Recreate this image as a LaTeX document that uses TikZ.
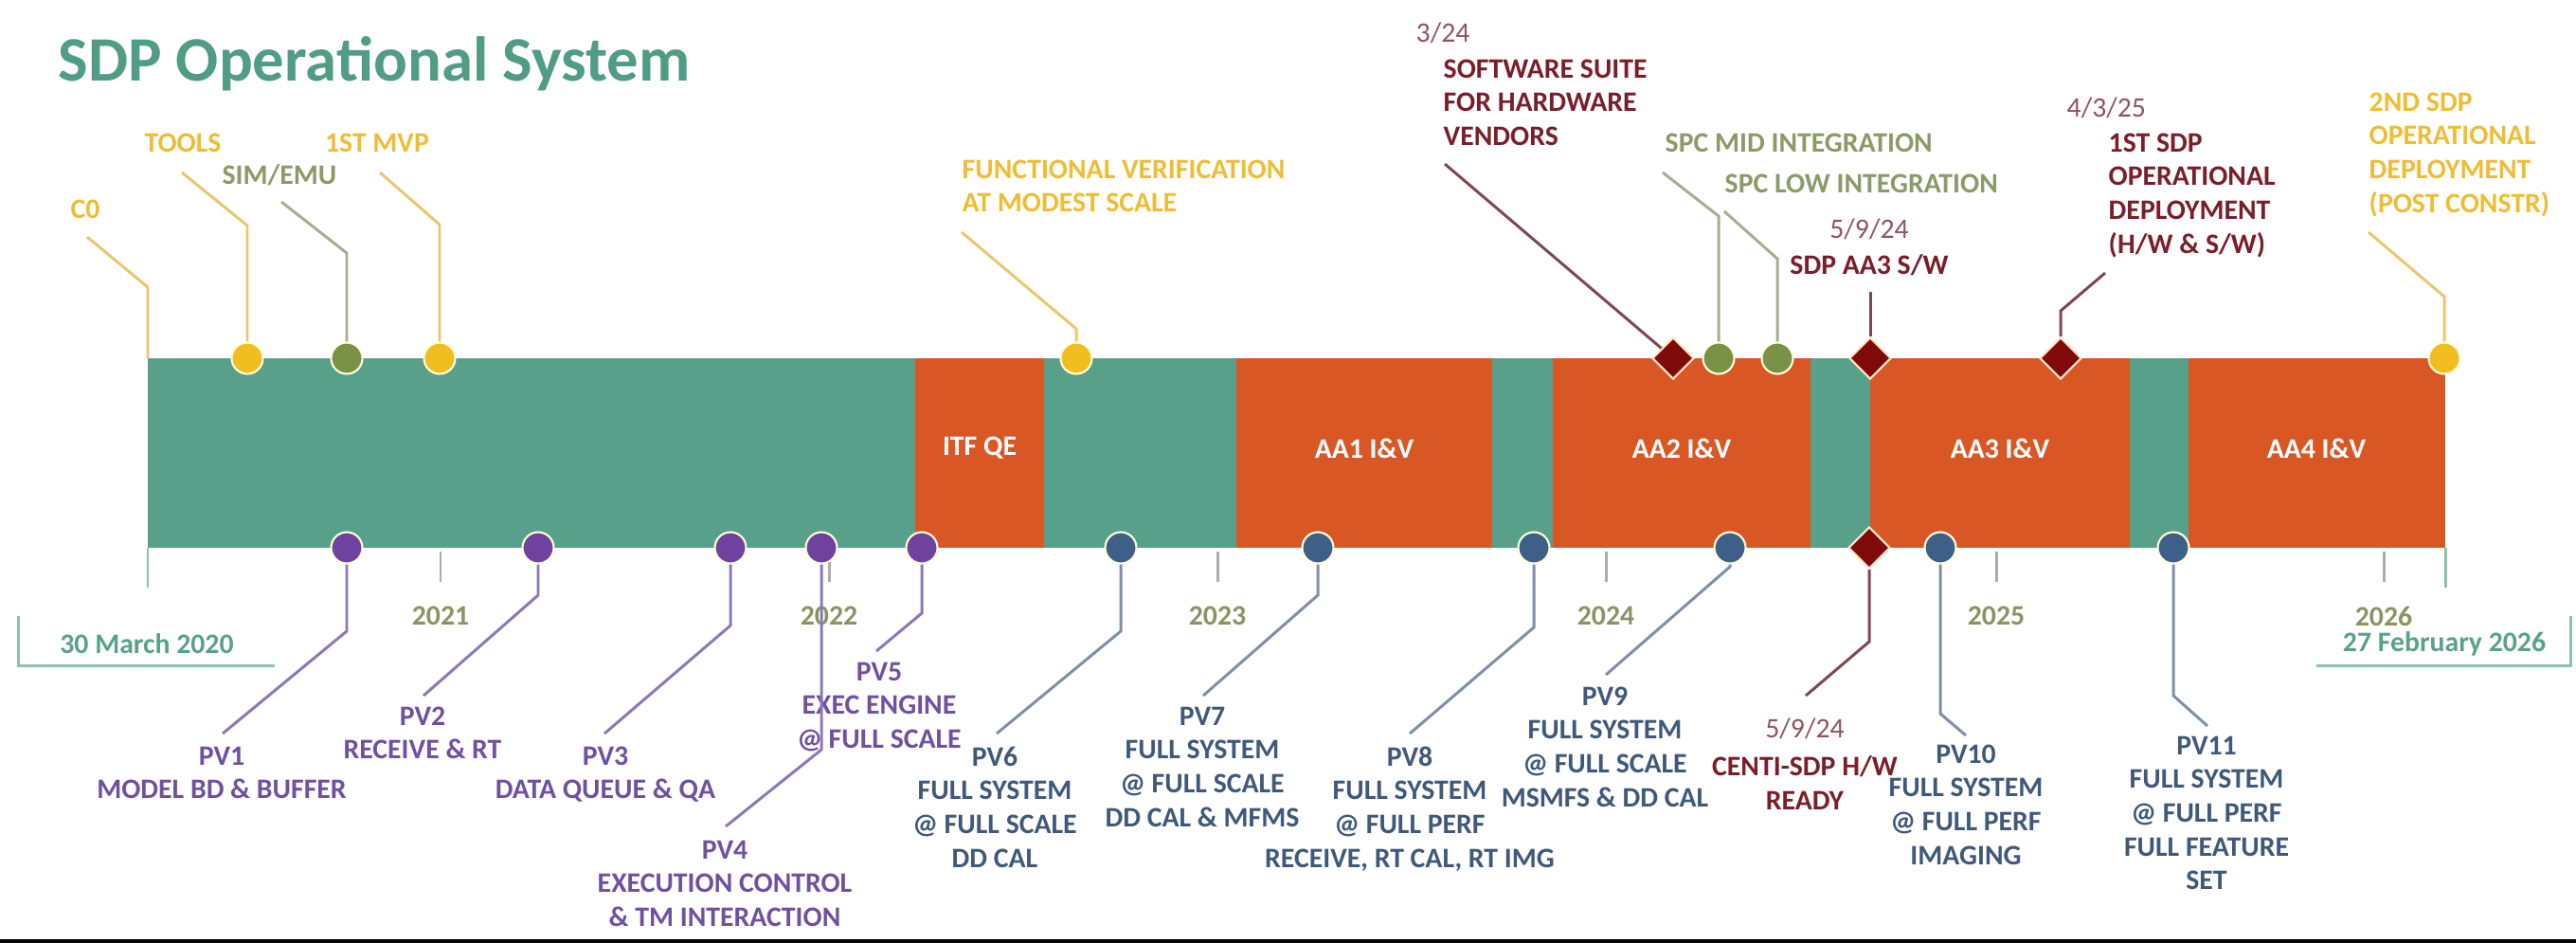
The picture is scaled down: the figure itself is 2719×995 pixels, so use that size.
\documentclass[tikz,border=0pt]{standalone}
\usepackage{fontspec}
\setmainfont{Carlito}
\usepackage{tikz}
\usetikzlibrary{shapes.geometric}
\definecolor{barteal}{HTML}{58A08A}
\definecolor{barorange}{HTML}{D95725}
\definecolor{mgold}{HTML}{F0BE1E}
\definecolor{molive}{HTML}{7A9148}
\definecolor{mpurple}{HTML}{6F42A0}
\definecolor{mslate}{HTML}{3E6088}
\definecolor{mred}{HTML}{800A0A}
\definecolor{ttitle}{HTML}{519C86}
\definecolor{tmaroon}{HTML}{7A1E2A}
\definecolor{tdate}{HTML}{8E5560}
\definecolor{tolive}{HTML}{8C9A68}
\definecolor{tyear}{HTML}{8A9462}
\definecolor{tteal}{HTML}{5AA18C}
\definecolor{tgold}{HTML}{EFBD34}
\definecolor{tpurple}{HTML}{7050A0}
\definecolor{tslate}{HTML}{40597A}
\definecolor{lgold}{HTML}{E9C76E}
\definecolor{lolive}{HTML}{A8AD92}
\definecolor{lmaroon}{HTML}{7D4852}
\definecolor{lpurple}{HTML}{8D78B6}
\definecolor{lslate}{HTML}{7F8FA6}
\definecolor{lteal}{HTML}{8CC0B0}
\tikzset{txt/.style={font=\fontsize{8.47}{10.15}\selectfont\bfseries, inner sep=0pt, align=center, anchor=north},
  txtl/.style={txt, align=left, anchor=north west},
  datetxt/.style={txt, font=\fontsize{8.47}{10.15}\selectfont, text=tdate},
  datel/.style={datetxt, anchor=north west},
  bartxt/.style={txt, anchor=center, text=white},
  mcirc/.style={circle, draw=white!85!yellow, line width=0.6pt, minimum size=3.3mm, inner sep=0pt, fill=#1},
  mdiam/.style={diamond, draw=white!80!orange, line width=0.6pt, minimum size=4.4mm, inner sep=0pt, fill=mred},
  ldr/.style={line width=0.85pt, draw=#1},
  yeartick/.style={line width=0.85pt, draw=gray!65}}
\newcommand{\ldrline}[4]{\draw[ldr=#1] (#2) -- ++(0,#3) -- (#4);}

\begin{document}
\begin{tikzpicture}[x=0.1mm, y=-0.1mm]
\useasboundingbox (0,0) rectangle (2719,995);
\fill[black] (0,991) rectangle (2719,995);
\node[anchor=north west, inner sep=0pt, font=\fontsize{19}{23}\selectfont\bfseries, text=ttitle] (title) at (61,38) {SDP Operational System};

% bar
\fill[barteal] (156,378) rectangle (2581,578);
\fill[barorange] (966,378) rectangle (1102,578);
\fill[barorange] (1305,378) rectangle (1575,578);
\fill[barorange] (1639,378) rectangle (1911,578);
\fill[barorange] (1974,378) rectangle (2248,578);
\fill[barorange] (2310,378) rectangle (2581,578);
\node[bartxt] (itf) at (1034,473) {ITF QE};
\node[bartxt] (aa1) at (1440,473) {AA1 I\&V};
\node[bartxt] (aa2) at (1775,473) {AA2 I\&V};
\node[bartxt] (aa3) at (2111,473) {AA3 I\&V};
\node[bartxt] (aa4) at (2445,473) {AA4 I\&V};

% top milestones
\node[txt, text=tgold] (c0-l) at (90,210) {C0};
\node[txt, text=tgold] (tools-l) at (193,140) {TOOLS};
\node[txt, text=tolive] (sim-l) at (295,173) {SIM/EMU};
\node[txt, text=tgold] (mvp-l) at (398,140) {1ST MVP};
\node[txtl, text=tgold] (func-l) at (1015,168) {FUNCTIONAL VERIFICATION\\AT MODEST SCALE};
\node[datel] (suite-d) at (1494,23) {3/24};
\node[txtl, text=tmaroon] (suite-l) at (1523,62) {SOFTWARE SUITE\\FOR HARDWARE\\VENDORS};
\node[txtl, text=tolive] (spcmid-l) at (1757,140) {SPC MID INTEGRATION};
\node[txtl, text=tolive] (spclow-l) at (1820,183) {SPC LOW INTEGRATION};
\node[datetxt] (aa3sw-d) at (1973,230) {5/9/24};
\node[txt, text=tmaroon] (aa3sw-l) at (1973,268) {SDP AA3 S/W};
\node[datel] (dep1-d) at (2181,102) {4/3/25};
\node[txtl, text=tmaroon] (dep1-l) at (2225,140) {1ST SDP\\OPERATIONAL\\DEPLOYMENT\\(H/W \& S/W)};
\node[txtl, text=tgold] (dep2-l) at (2500,97) {2ND SDP\\OPERATIONAL\\DEPLOYMENT\\(POST CONSTR)};

\coordinate (c0) at (156,378);
\node[mcirc=mgold] (tools) at (261,378) {};
\node[mcirc=molive] (sim) at (366,378) {};
\node[mcirc=mgold] (mvp) at (464,378) {};
\node[mcirc=mgold] (func) at (1136,378) {};
\node[mdiam] (suite) at (1766,378) {};
\node[mcirc=molive] (spcmid) at (1814,378) {};
\node[mcirc=molive] (spclow) at (1876,378) {};
\node[mdiam] (aa3sw) at (1974,378) {};
\node[mdiam] (dep1) at (2175,378) {};
\node[mcirc=mgold] (dep2) at (2580,378) {};

\coordinate (c0-e) at (92,250);
\coordinate (tools-e) at (192,182);
\coordinate (sim-e) at (297,213);
\coordinate (mvp-e) at (401,182);
\coordinate (func-e) at (1015,245);
\coordinate (suite-e) at (1525,173);
\coordinate (spcmid-e) at (1755,182);
\coordinate (spclow-e) at (1820,223);
\coordinate (aa3sw-e) at (1974,308);
\coordinate (dep1-e) at (2222,288);
\coordinate (dep2-e) at (2500,245);
\ldrline{lgold}{c0}{-75}{c0-e}
\ldrline{lgold}{tools}{-140}{tools-e}
\ldrline{lolive}{sim}{-111}{sim-e}
\ldrline{lgold}{mvp}{-141}{mvp-e}
\ldrline{lgold}{func}{-31}{func-e}
\draw[ldr=lmaroon] (suite) -- (suite-e);
\ldrline{lolive}{spcmid}{-150}{spcmid-e}
\ldrline{lolive}{spclow}{-105}{spclow-e}
\draw[ldr=lmaroon] (aa3sw) -- (aa3sw-e);
\ldrline{lmaroon}{dep1}{-50}{dep1-e}
\ldrline{lgold}{dep2}{-65}{dep2-e}

% time axis
\foreach \x/\yr in {465/2021, 875/2022, 1285/2023, 1695/2024, 2107/2025, 2516/2026}{
  \node[txt, font=\fontsize{8.47}{10.15}\selectfont, text=tyear] (y\yr) at (\x,639) {\textbf{\yr}};
  \draw[yeartick] (y\yr.north) ++(0,-25) -- ++(0,-32);
}
\node[txt, text=tteal] (start-l) at (155,668) {30 March 2020};
\node[txt, text=tteal] (end-l) at (2580,666) {27 February 2026};
\draw[ldr=lteal] (start-l.north west) ++(-43,-18) coordinate (start-a) -- ++(0,52) -- ++(270,0);
\draw[ldr=lteal] (end-l.north east) ++(26,-16) coordinate (end-a) -- ++(0,52) -- ++(-269,0);
\draw[ldr=lteal] (156,578) -- (156,620);
\draw[ldr=lteal] (2581,578) -- (2581,620);

% bottom milestones
\node[txt, text=tpurple] (pv1-l) at (234,787) {PV1\\MODEL BD \& BUFFER};
\node[txt, text=tpurple] (pv2-l) at (446,745) {PV2\\RECEIVE \& RT};
\node[txt, text=tpurple] (pv3-l) at (639,787) {PV3\\DATA QUEUE \& QA};
\node[txt, text=tpurple] (pv4-l) at (765,886) {PV4\\EXECUTION CONTROL\\\& TM INTERACTION};
\node[txt, text=tpurple] (pv5-l) at (928,698) {PV5\\EXEC ENGINE\\@ FULL SCALE};
\node[txt, text=tslate] (pv6-l) at (1050,787) {PV6\\FULL SYSTEM\\@ FULL SCALE\\DD CAL};
\node[txt, text=tslate] (pv7-l) at (1269,745) {PV7\\FULL SYSTEM\\@ FULL SCALE\\DD CAL \& MFMS};
\node[txt, text=tslate] (pv8-l) at (1488,787) {PV8\\FULL SYSTEM\\@ FULL PERF\\RECEIVE, RT CAL, RT IMG};
\node[txt, text=tslate] (pv9-l) at (1694,724) {PV9\\FULL SYSTEM\\@ FULL SCALE\\MSMFS \& DD CAL};
\node[datetxt] (centi-d) at (1905,757) {5/9/24};
\node[txt, text=tmaroon] (centi-l) at (1905,797) {CENTI-SDP H/W\\READY};
\node[txt, text=tslate] (pv10-l) at (2075,785) {PV10\\FULL SYSTEM\\@ FULL PERF\\IMAGING};
\node[txt, text=tslate] (pv11-l) at (2329,776) {PV11\\FULL SYSTEM\\@ FULL PERF\\FULL FEATURE\\SET};

\node[mcirc=mpurple] (pv1) at (366,578) {};
\node[mcirc=mpurple] (pv2) at (568,578) {};
\node[mcirc=mpurple] (pv3) at (771,578) {};
\node[mcirc=mpurple] (pv4) at (867,578) {};
\node[mcirc=mpurple] (pv5) at (973,578) {};
\node[mcirc=mslate] (pv6) at (1183,578) {};
\node[mcirc=mslate] (pv7) at (1391,578) {};
\node[mcirc=mslate] (pv8) at (1619,578) {};
\node[mcirc=mslate] (pv9) at (1826,578) {};
\node[mdiam] (centi) at (1973,578) {};
\node[mcirc=mslate] (pv10) at (2048,578) {};
\node[mcirc=mslate] (pv11) at (2294,578) {};

\coordinate (pv1-e) at (235,774);
\coordinate (pv2-e) at (447,734);
\coordinate (pv3-e) at (638,774);
\coordinate (pv4-e) at (766,872);
\coordinate (pv5-e) at (925,687);
\coordinate (pv6-e) at (1052,774);
\coordinate (pv7-e) at (1270,734);
\coordinate (pv8-e) at (1488,774);
\coordinate (pv9-e) at (1695,712);
\coordinate (centi-e) at (1906,734);
\coordinate (pv10-e) at (2075,776);
\coordinate (pv11-e) at (2330,766);
\ldrline{lpurple}{pv1}{88}{pv1-e}
\ldrline{lpurple}{pv2}{50}{pv2-e}
\ldrline{lpurple}{pv3}{82}{pv3-e}
\ldrline{lpurple}{pv4}{213}{pv4-e}
\ldrline{lpurple}{pv5}{69}{pv5-e}
\ldrline{lslate}{pv6}{88}{pv6-e}
\ldrline{lslate}{pv7}{50}{pv7-e}
\ldrline{lslate}{pv8}{84}{pv8-e}
\ldrline{lslate}{pv9}{20}{pv9-e}
\ldrline{lmaroon}{centi}{99}{centi-e}
\ldrline{lslate}{pv10}{175}{pv10-e}
\ldrline{lslate}{pv11}{156}{pv11-e}
\end{tikzpicture}
\end{document}
